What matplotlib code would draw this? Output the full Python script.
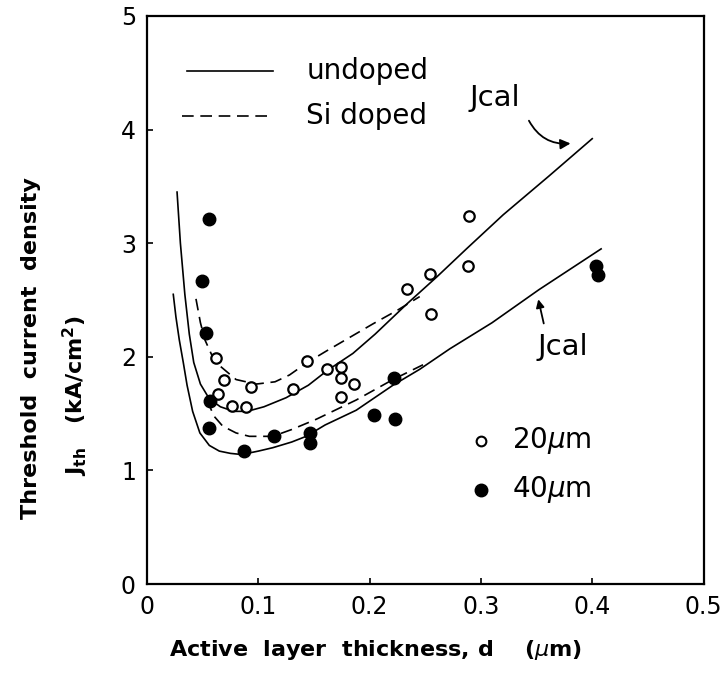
import matplotlib
matplotlib.use("Agg")
import matplotlib.pyplot as plt

plt.rcParams["font.family"] = ["DejaVu Sans"]

# calculated threshold curves
und20_x = [0.027, 0.030, 0.034, 0.038, 0.042, 0.048, 0.056, 0.066, 0.078, 0.090, 0.105,
           0.125, 0.145, 0.162, 0.185, 0.205, 0.234, 0.260, 0.287, 0.320, 0.361, 0.400]
und20_y = [3.45, 3.00, 2.55, 2.20, 1.95, 1.76, 1.63, 1.56, 1.52, 1.52, 1.56,
           1.64, 1.75, 1.88, 2.03, 2.20, 2.47, 2.70, 2.95, 3.25, 3.59, 3.92]

si20_x = [0.044, 0.048, 0.052, 0.058, 0.0655, 0.080, 0.098, 0.115, 0.128, 0.144,
          0.161, 0.182, 0.203, 0.225, 0.245]
si20_y = [2.51, 2.30, 2.15, 2.02, 1.92, 1.80, 1.76, 1.78, 1.84, 1.95,
          2.05, 2.17, 2.29, 2.41, 2.53]

und40_x = [0.0236, 0.026, 0.029, 0.0326, 0.036, 0.041, 0.0475, 0.056, 0.065, 0.075, 0.085,
           0.100, 0.113, 0.130, 0.143, 0.160, 0.188, 0.221, 0.245, 0.272, 0.310, 0.352, 0.408]
und40_y = [2.55, 2.35, 2.15, 1.95, 1.75, 1.52, 1.33, 1.22, 1.17, 1.15, 1.14,
           1.17, 1.20, 1.25, 1.30, 1.40, 1.53, 1.75, 1.89, 2.07, 2.30, 2.59, 2.95]

si40_x = [0.054, 0.060, 0.068, 0.080, 0.092, 0.113, 0.130, 0.152, 0.188, 0.221, 0.248]
si40_y = [1.62, 1.48, 1.39, 1.33, 1.30, 1.30, 1.36, 1.45, 1.62, 1.80, 1.93]

# measured points
w20_x = [0.062, 0.064, 0.069, 0.076, 0.089, 0.093, 0.131, 0.144, 0.162, 0.174,
         0.174, 0.174, 0.186, 0.234, 0.254, 0.255, 0.288, 0.289]
w20_y = [1.99, 1.67, 1.80, 1.57, 1.56, 1.73, 1.72, 1.96, 1.89, 1.91,
         1.81, 1.65, 1.76, 2.60, 2.73, 2.38, 2.80, 3.24]

w40_x = [0.056, 0.049, 0.053, 0.057, 0.056, 0.087, 0.114, 0.146, 0.146, 0.204,
         0.223, 0.222, 0.403, 0.405]
w40_y = [3.21, 2.67, 2.21, 1.61, 1.37, 1.17, 1.30, 1.33, 1.24, 1.49,
         1.45, 1.81, 2.80, 2.72]

fig = plt.figure(figsize=(7.22, 6.83), dpi=100)
ax = fig.add_axes([0.2036, 0.1449, 0.7708, 0.8317])

lw = 1.2
ax.plot(und20_x, und20_y, color="black", lw=lw)
ax.plot(und40_x, und40_y, color="black", lw=lw)
ax.plot(si20_x, si20_y, color="black", lw=lw, dashes=(7, 4))
ax.plot(si40_x, si40_y, color="black", lw=lw, dashes=(7, 4))

ax.plot(w20_x, w20_y, "o", ms=7.5, mfc="white", mec="black", mew=1.6, zorder=3)
ax.plot(w40_x, w40_y, "o", ms=9, mfc="black", mec="black", zorder=3)

# line-style key
ax.plot([0.036, 0.113], [4.52, 4.52], color="black", lw=lw)
ax.plot([0.031, 0.112], [4.12, 4.12], color="black", lw=lw, dashes=(7, 4))
ax.text(0.143, 4.52, "undoped", fontsize=20, va="center")
ax.text(0.143, 4.12, "Si doped", fontsize=20, va="center")

# marker key
ax.plot([0.300], [1.26], "o", ms=7, mfc="white", mec="black", mew=1.5)
ax.plot([0.300], [0.83], "o", ms=9, mfc="black", mec="black")
ax.text(0.328, 1.26, "20$\\mu$m", fontsize=20, va="center")
ax.text(0.328, 0.83, "40$\\mu$m", fontsize=20, va="center")

# Jcal labels
ax.text(0.290, 4.21, "Jcal", fontsize=21, va="baseline")
ax.annotate("", xy=(0.383, 3.88), xytext=(0.342, 4.10),
            arrowprops=dict(arrowstyle="-|>", color="black", lw=1.3,
                            connectionstyle="arc3,rad=0.35", mutation_scale=15))
ax.text(0.351, 2.02, "Jcal", fontsize=21, va="baseline")
ax.annotate("", xy=(0.351, 2.53), xytext=(0.357, 2.27),
            arrowprops=dict(arrowstyle="-|>", color="black", lw=1.3, mutation_scale=12))

ax.set_xlim(0, 0.5)
ax.set_ylim(0, 5)
ax.set_xticks([0, 0.1, 0.2, 0.3, 0.4, 0.5])
ax.set_xticklabels(["0", "0.1", "0.2", "0.3", "0.4", "0.5"])
ax.set_yticks([0, 1, 2, 3, 4, 5])
ax.tick_params(direction="in", length=4, width=1.2, labelsize=17, pad=8)
for s in ax.spines.values():
    s.set_linewidth(1.6)

lab = dict(fontsize=16, fontweight="bold")
fig.text(0.52, 0.048, "Active  layer  thickness, d    ($\\mu$m)",
         ha="center", va="center", **lab)
fig.text(0.043, 0.49, "Threshold  current  density", rotation=90,
         ha="center", va="center", **lab)
fig.text(0.105, 0.42, "J$_{\\mathbf{th}}$   (kA/cm$^{\\mathbf{2}}$)", rotation=90,
         ha="center", va="center", **lab)

fig.savefig("out.png", dpi=100)
